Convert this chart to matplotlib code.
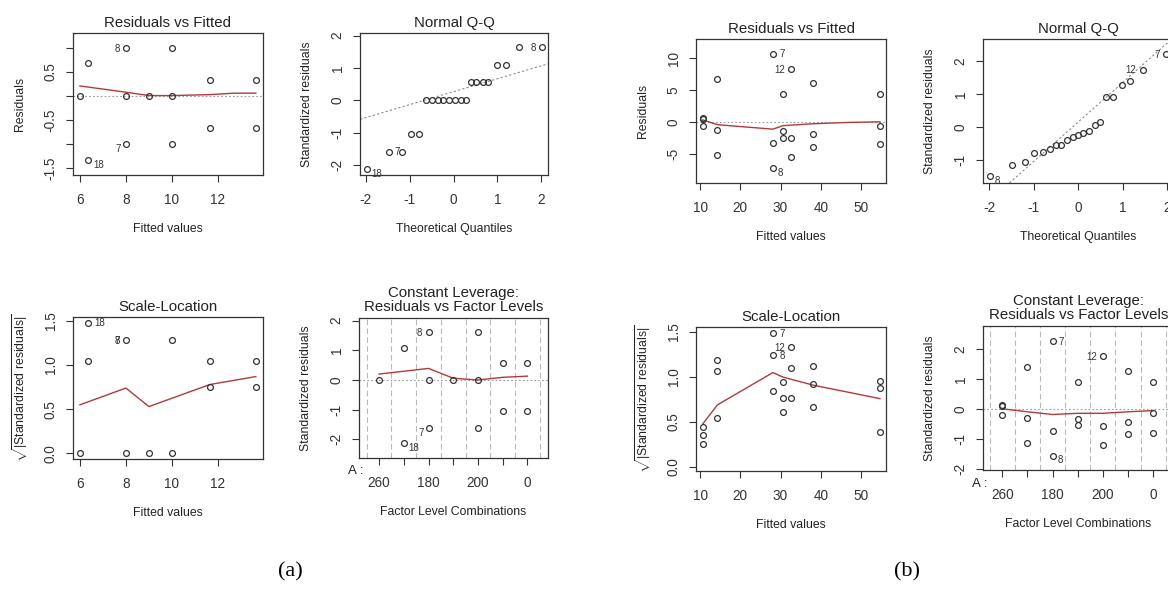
import numpy as np
import matplotlib.pyplot as plt

plt.rcParams['font.family'] = ['Liberation Sans', 'DejaVu Sans']
plt.rcParams['mathtext.fontset'] = 'custom'
plt.rcParams['mathtext.rm'] = 'Liberation Sans'
plt.rcParams['mathtext.it'] = 'Liberation Sans:italic'
plt.rcParams['axes.unicode_minus'] = False

# ---------------- data, panel (a) ----------------
a_fitted = [6.0, 6.35, 6.35, 8.0, 8.0, 8.0, 9.0, 10.0, 10.0, 10.0, 11.65, 11.65, 13.65, 13.65]
a_resid = [0.0, 0.68, -1.33, 1.0, 0.0, -1.0, 0.0, 1.0, 0.0, -1.0, 0.33, -0.67, 0.33, -0.67]
a_resid_lab = [(2, "18", "rb"), (3, "8", "l"), (5, "7", "lb")]
a_resid_smooth_x = [6.0, 8.0, 9.0, 10.0, 11.65, 12.7, 13.65]
a_resid_smooth_y = [0.21, 0.08, 0.01, 0.01, 0.03, 0.06, 0.06]

a_qq_theo = [-1.98, -1.48, -1.18, -0.97, -0.78, -0.63, -0.5, -0.36, -0.23, -0.1, 0.03,
             0.17, 0.28, 0.39, 0.52, 0.66, 0.79, 0.98, 1.19, 1.48, 2.02]
a_qq_std = [-2.12, -1.58, -1.58, -1.04, -1.04, 0.02, 0.02, 0.02, 0.02, 0.02, 0.02,
            0.02, 0.02, 0.56, 0.56, 0.56, 0.56, 1.09, 1.09, 1.64, 1.64]
a_qq_lab = [(0, "18", "rb"), (1, "7", "r"), (20, "8", "l")]
a_qq_line = (0.27, 0.40)  # intercept, slope

a_sl_fitted = [6.0, 6.35, 6.35, 8.0, 8.0, 9.0, 10.0, 10.0, 11.65, 11.65, 13.65, 13.65]
a_sl_sqrt = [0.0, 1.48, 1.05, 1.28, 0.0, 0.0, 1.28, 0.0, 1.05, 0.75, 1.05, 0.75]
a_sl_lab = [(1, "18", "r"), (3, "8", "l"), (3, "7", "l")]
a_sl_smooth_x = [6.0, 8.0, 9.0, 11.65, 13.65]
a_sl_smooth_y = [0.55, 0.74, 0.53, 0.78, 0.87]

a_lev_level = [1, 2, 2, 3, 3, 3, 4, 5, 5, 5, 6, 6, 7, 7]
a_lev_std = [0.0, 1.08, -2.14, 1.62, 0.0, -1.62, 0.0, 1.62, 0.0, -1.62, 0.56, -1.06, 0.56, -1.06]
a_lev_lab = [(2, "18", "rb"), (3, "8", "l"), (5, "7", "lb")]
a_lev_smooth_x = [1, 3, 4, 5, 6, 7]
a_lev_smooth_y = [0.2, 0.39, 0.06, 0.0, 0.09, 0.13]

# ---------------- data, panel (b) ----------------
b_fitted = [10.7, 10.7, 10.7, 14.3, 14.3, 14.3, 28.1, 28.1, 28.1, 30.6, 30.6, 30.6,
            32.6, 32.6, 32.6, 38.1, 38.1, 38.1, 54.7, 54.7, 54.7]
b_resid = [0.65, 0.5, -0.73, 6.75, -1.25, -5.2, 10.7, -3.25, -7.2, 4.35, -1.5, -2.55,
           8.3, -2.55, -5.45, 6.1, -1.95, -3.9, 4.35, -0.6, -3.5]
b_resid_lab = [(6, "7", "r"), (12, "12", "l"), (8, "8", "rb")]
b_resid_smooth_x = [10.7, 14.3, 28.1, 30.6, 38.1, 46.5, 54.7]
b_resid_smooth_y = [0.3, -0.45, -1.15, -0.6, -0.3, -0.1, 0.0]

b_qq_theo = [-1.98, -1.48, -1.2, -0.98, -0.8, -0.64, -0.5, -0.38, -0.24, -0.11, 0.0,
             0.11, 0.24, 0.38, 0.5, 0.62, 0.79, 0.98, 1.16, 1.45, 1.98]
b_qq_std = [-1.5, -1.16, -1.07, -0.8, -0.76, -0.67, -0.56, -0.54, -0.38, -0.3, -0.25,
            -0.18, -0.13, 0.07, 0.14, 0.91, 0.91, 1.28, 1.4, 1.74, 2.22]
b_qq_lab = [(0, "8", "rb"), (19, "12", "l"), (20, "7", "l")]
b_qq_line = (0.15, 1.2)

b_sl_sqrt = [0.44, 0.36, 0.26, 1.19, 1.07, 0.54, 1.49, 1.24, 0.85, 0.95, 0.77, 0.61,
             1.33, 1.10, 0.77, 1.12, 0.92, 0.67, 0.96, 0.88, 0.39]
b_sl_lab = [(6, "7", "r"), (7, "8", "r"), (12, "12", "l")]
b_sl_smooth_x = [10.7, 14.3, 28.1, 30.6, 38.1, 54.7]
b_sl_smooth_y = [0.48, 0.69, 1.05, 1.0, 0.91, 0.76]

b_lev_level = [1, 1, 1, 2, 2, 2, 3, 3, 3, 4, 4, 4, 5, 5, 5, 6, 6, 6, 7, 7, 7]
b_lev_std = [0.14, 0.11, -0.19, 1.42, -0.28, -1.13, 2.27, -0.71, -1.54, 0.92, -0.33, -0.52,
             1.77, -0.54, -1.19, 1.29, -0.41, -0.83, 0.92, -0.11, -0.78]
b_lev_lab = [(6, "7", "r"), (8, "8", "rb"), (12, "12", "l")]
b_lev_smooth_x = [1, 2, 3, 4, 5, 6, 7]
b_lev_smooth_y = [0.02, -0.08, -0.17, -0.13, -0.13, -0.08, -0.04]

factor_ticks = [1, 2, 3, 4, 5, 6, 7]
factor_labels = ["260", "", "180", "", "200", "", "0"]

# ---------------- drawing ----------------
W, H = 1168, 589
FG = "#333333"
RED = "#b23a3a"
GRAY = "#9a9a9a"

fig = plt.figure(figsize=(W / 100, H / 100), dpi=100)

OFF = {"r": (4.5, -0.5, "left"), "l": (-4.5, -0.5, "right"),
       "rb": (3.5, -3.5, "left"), "lb": (-3.5, -3.5, "right")}


def make_ax(box, xlim, ylim, title, xlabel, ylabel, title_pad=4):
    l, r, t, b = box
    wpx, hpx = r - l, b - t
    ax = fig.add_axes([l / W, 1 - b / H, wpx / W, hpx / H])
    ax.set_xlim(*xlim)
    ax.set_ylim(*ylim)
    for s in ax.spines.values():
        s.set_color(FG)
        s.set_linewidth(0.9)
    ax.tick_params(direction="out", length=5, width=0.8, color=FG,
                   labelcolor=FG, labelsize=9.8)
    ax.tick_params(axis="x", pad=8)
    ax.tick_params(axis="y", pad=6, labelrotation=90)
    ax.set_title(title, fontsize=10.8, color="#222222", pad=title_pad, linespacing=1.05)
    ax.set_xlabel(xlabel, fontsize=8.8, color="#222222", va="center")
    ax.xaxis.set_label_coords(0.5, -54 / hpx)
    ax.set_ylabel(ylabel, fontsize=8.8, color="#222222", va="center")
    ax.yaxis.set_label_coords(-53 / wpx, 0.5)
    return ax


def points(ax, x, y, labels):
    ax.plot(x, y, "o", ms=4.2, mfc="none", mec=FG, mew=0.9, zorder=3)
    for i, txt, side in labels:
        dx, dy, ha = OFF[side]
        ax.annotate(txt, (x[i], y[i]), xytext=(dx, dy), textcoords="offset points",
                    ha=ha, va="center", fontsize=7, color=FG)


def yticks(ax, vals, labs=None):
    ax.set_yticks(vals)
    if labs is not None:
        ax.set_yticklabels(labs)
    plt.setp(ax.get_yticklabels(), va="center")


def residuals_panel(box, xlim, ylim, x, y, labs, sx, sy, xt, yt, ytl):
    ax = make_ax(box, xlim, ylim, "Residuals vs Fitted", "Fitted values", "Residuals")
    ax.axhline(0, color=GRAY, lw=0.8, ls=(0, (1.5, 2)))
    ax.plot(sx, sy, color=RED, lw=1.0)
    points(ax, x, y, labs)
    ax.set_xticks(xt)
    yticks(ax, yt, ytl)


def qq_panel(box, xlim, ylim, x, y, labs, line, yt):
    ax = make_ax(box, xlim, ylim, "Normal Q-Q", "Theoretical Quantiles",
                 "Standardized residuals")
    ax.axline((0, line[0]), slope=line[1], color="#8a8a8a", lw=0.8, ls=(0, (2, 2)))
    points(ax, x, y, labs)
    ax.set_xticks([-2, -1, 0, 1, 2])
    yticks(ax, yt)


def scale_panel(box, xlim, ylim, x, y, labs, sx, sy, xt):
    ax = make_ax(box, xlim, ylim, "Scale-Location", "Fitted values",
                 r"$\sqrt{|\mathrm{Standardized\ residuals}|}$")
    ax.plot(sx, sy, color=RED, lw=1.0)
    points(ax, x, y, labs)
    ax.set_xticks(xt)
    yticks(ax, [0, 0.5, 1.0, 1.5], ["0.0", "0.5", "1.0", "1.5"])


def leverage_panel(box, xlim, ylim, x, y, labs, sx, sy):
    ax = make_ax(box, xlim, ylim, "Constant Leverage:\nResiduals vs Factor Levels",
                 "Factor Level Combinations", "Standardized residuals", title_pad=5)
    for v in np.arange(0.5, 8.0, 1.0):
        ax.axvline(v, color="#b8b8b8", lw=0.8, ls=(0, (5, 3)))
    ax.axhline(0, color=GRAY, lw=0.8, ls=(0, (1.5, 2)))
    ax.plot(sx, sy, color=RED, lw=1.0)
    points(ax, x, y, labs)
    ax.set_xticks(factor_ticks)
    ax.set_xticklabels(factor_labels)
    yticks(ax, [-2, -1, 0, 1, 2])
    ax.text(-0.015, -0.095, "A :", transform=ax.transAxes, ha="center", va="center",
            fontsize=9.5, color="#222222")


# panel (a)
residuals_panel((73, 263, 33, 175), (5.7, 13.96), (-1.64, 1.31), a_fitted, a_resid,
                a_resid_lab, a_resid_smooth_x, a_resid_smooth_y, [6, 8, 10, 12],
                [-1.5, -1.0, -0.5, 0, 0.5, 1.0], ["-1.5", "", "-0.5", "", "0.5", ""])
qq_panel((360, 548, 33, 175), (-2.13, 2.15), (-2.3, 2.08), a_qq_theo, a_qq_std,
         a_qq_lab, a_qq_line, [-2, -1, 0, 1, 2])
scale_panel((73, 263, 317, 459), (5.7, 13.96), (-0.064, 1.545), a_sl_fitted, a_sl_sqrt,
            a_sl_lab, a_sl_smooth_x, a_sl_smooth_y, [6, 8, 10, 12])
leverage_panel((359, 548, 318, 458), (0.19, 7.83), (-2.63, 2.09), a_lev_level, a_lev_std,
               a_lev_lab, a_lev_smooth_x, a_lev_smooth_y)

# panel (b)
residuals_panel((696, 886, 39, 183), (9.0, 56.2), (-9.6, 13.0), b_fitted, b_resid,
                b_resid_lab, b_resid_smooth_x, b_resid_smooth_y, [10, 20, 30, 40, 50],
                [-5, 0, 5, 10], None)
qq_panel((983, 1174, 39, 183), (-2.135, 2.15), (-1.7, 2.67), b_qq_theo, b_qq_std,
         b_qq_lab, b_qq_line, [-1, 0, 1, 2])
scale_panel((696, 886, 327, 471), (9.0, 56.2), (-0.044, 1.556), b_fitted, b_sl_sqrt,
            b_sl_lab, b_sl_smooth_x, b_sl_smooth_y, [10, 20, 30, 40, 50])
leverage_panel((983, 1174, 326, 470), (0.23, 7.83), (-2.02, 2.78), b_lev_level, b_lev_std,
               b_lev_lab, b_lev_smooth_x, b_lev_smooth_y)

fig.text(290 / W, 1 - 572 / H, "(a)", family=["Liberation Serif", "DejaVu Serif"],
         fontsize=16, ha="center", va="center")
fig.text(907 / W, 1 - 572 / H, "(b)", family=["Liberation Serif", "DejaVu Serif"],
         fontsize=16, ha="center", va="center")

fig.savefig("out.png", dpi=100)
